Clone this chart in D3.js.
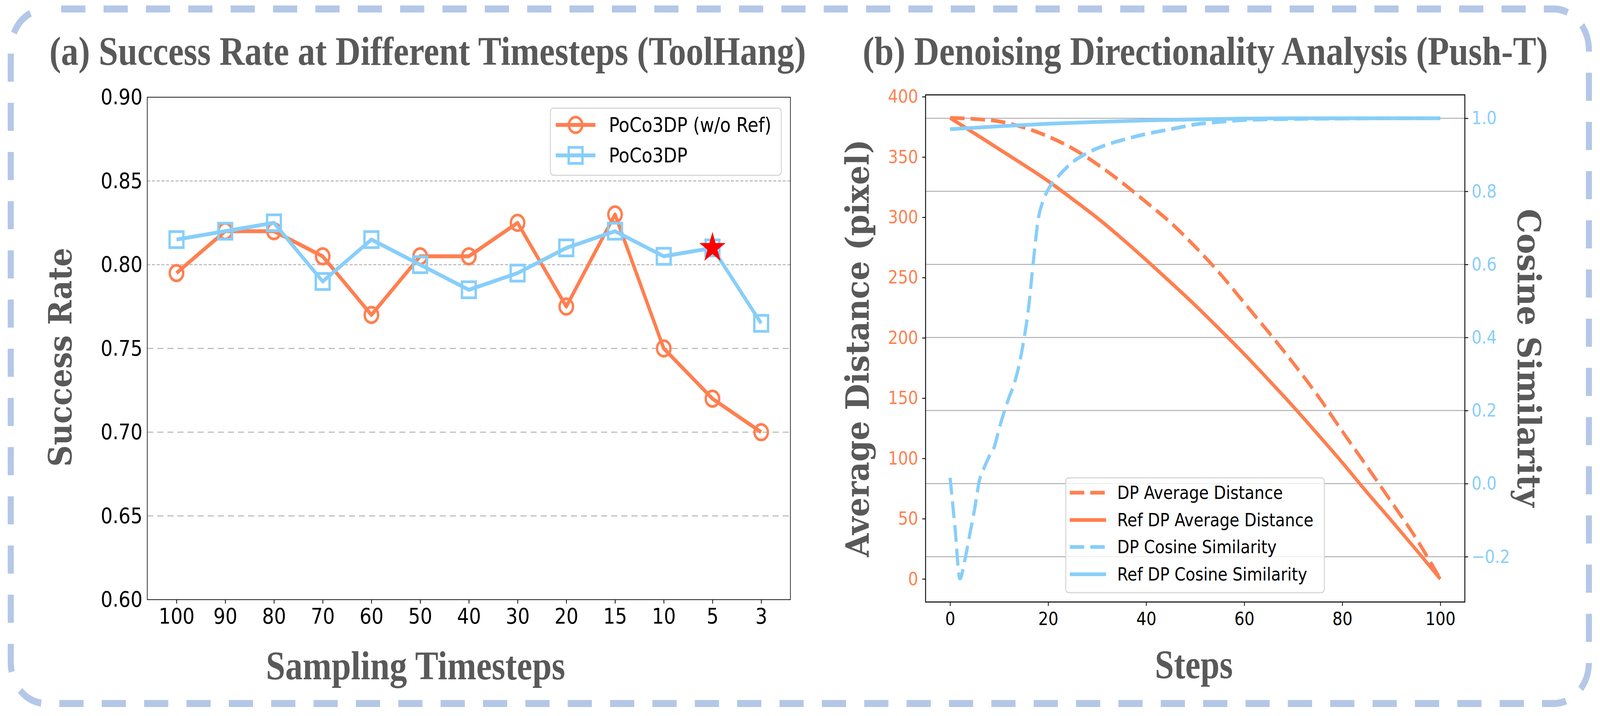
<!DOCTYPE html>
<html>
<head>
<meta charset="utf-8">
<script src="https://cdn.jsdelivr.net/npm/d3@7"></script>
<style>
	html, body { margin: 0; padding: 0; background: #fff; overflow: hidden; }
	svg { display: block; width: 100vw; height: 100vh; }
</style>
</head>
<body>
<svg id="fig" viewBox="0 0 4759 1834" preserveAspectRatio="none"></svg>
<script>
// ---- (a) success rate per sampling timestep ----
const timesteps = ["100", "90", "80", "70", "60", "50", "40", "30", "20", "15", "10", "5", "3"];
const rateNoRef = [0.795, 0.82, 0.82, 0.805, 0.77, 0.805, 0.805, 0.825, 0.775, 0.83, 0.75, 0.72, 0.70];
const ratePoco = [0.815, 0.82, 0.825, 0.79, 0.815, 0.80, 0.785, 0.795, 0.81, 0.82, 0.805, 0.81, 0.765];
const bestIndex = 11;
const rateTicks = [0.60, 0.65, 0.70, 0.75, 0.80, 0.85, 0.90];
const rateFineGrid = [0.80, 0.85];
const rateCoarseGrid = [0.65, 0.70, 0.75];

// ---- (b) denoising directionality ----
const distSteps = [0, 5, 10, 15, 20, 25, 30, 35, 40, 45, 50, 55, 60, 65, 70, 75, 80, 85, 90, 95, 100];
const dpDist = [382.4, 381.5, 379.5, 374.5, 367, 357, 344, 329, 312.5, 295.5, 275.5, 253.5, 229, 204.5, 179, 152, 122.5, 93.5, 64, 34, 0];
const refDist = [382.4, 369.5, 356.5, 343.5, 330, 315, 299.5, 282.5, 264.5, 246, 227, 207, 186.5, 165, 143, 120, 96.5, 72, 48.5, 24.5, 0];
const cosSteps = [0, 1, 2, 3, 4, 5, 6, 7, 8, 9, 10, 11, 12, 13, 14, 15, 16, 17, 18, 19, 20, 22, 25, 28, 31, 35, 40, 45, 50, 55, 60, 70, 80, 90, 100];
const dpCos = [0.016, -0.12, -0.26, -0.21, -0.14, -0.07, 0.01, 0.045, 0.075, 0.10, 0.15, 0.195, 0.235, 0.27, 0.32, 0.39, 0.48, 0.61, 0.725, 0.775, 0.805, 0.84, 0.88, 0.905, 0.923, 0.94, 0.957, 0.97, 0.983, 0.99, 0.995, 0.998, 0.999, 1.0, 1.0];
const refCosSteps = [0, 10, 20, 30, 40, 50, 60, 70, 80, 90, 100];
const refCos = [0.970, 0.978, 0.985, 0.990, 0.994, 0.997, 0.999, 1.0, 1.0, 1.0, 1.0];
const distTicks = [0, 50, 100, 150, 200, 250, 300, 350, 400];
const cosTicks = [-0.2, 0.0, 0.2, 0.4, 0.6, 0.8, 1.0];
const stepTicks = [0, 20, 40, 60, 80, 100];

const ORANGE = "#FF7F50";
const BLUE = "#87CEFA";
const LABEL = "#595959";
const GRID = "#b3b3b3";
const SANS = "DejaVu Sans";
const TIMES = "'Liberation Serif', 'Times New Roman', serif";
const WIDE_SERIF = "'DejaVu Serif', serif";

const svg = d3.select("#fig");

// rounded dashed frame round the whole figure
svg.append("rect")
	.attr("x", 32).attr("y", 23)
	.attr("width", 4694).attr("height", 1779)
	.attr("rx", 105).attr("ry", 105)
	.attr("fill", "none")
	.attr("stroke", "#B4C7E7")
	.attr("stroke-width", 18)
	.attr("stroke-dasharray", "72 54")
	.attr("stroke-dashoffset", 81);

function boldText(parent, txt, opts){
	const t = parent.append("text")
		.text(txt)
		.attr("font-family", opts.family)
		.attr("font-weight", "bold")
		.attr("font-size", opts.size)
		.attr("fill", LABEL)
		.attr("text-anchor", opts.anchor || "start")
		.attr("textLength", opts.length)
		.attr("lengthAdjust", "spacingAndGlyphs");
	if (opts.rotate){
		t.attr("transform", `translate(${opts.x},${opts.y}) rotate(${opts.rotate})`);
	} else {
		t.attr("x", opts.x).attr("y", opts.y);
	}
	return t;
}

function styleAxis(g, size, color){
	g.select(".domain").remove();
	g.selectAll(".tick text")
		.attr("font-family", SANS)
		.attr("font-size", size)
		.attr("fill", color);
	g.selectAll(".tick line").attr("stroke", "#000").attr("stroke-width", 2.2);
}

// =============== panel (a) ===============
const a = svg.append("g");
const xA = d3.scalePoint().domain(timesteps).range([438, 2351]).padding(0.6);
const yA = d3.scaleLinear().domain([0.6, 0.9]).range([1536, 249]);

// grid: two finer dashed lines up top, coarser dashes below
a.selectAll("line.fine").data(rateFineGrid).join("line")
	.attr("x1", 438).attr("x2", 2351)
	.attr("y1", d => yA(d)).attr("y2", d => yA(d))
	.attr("stroke", GRID).attr("stroke-width", 2.5)
	.attr("stroke-dasharray", "9 5");
a.selectAll("line.coarse").data(rateCoarseGrid).join("line")
	.attr("x1", 438).attr("x2", 2351)
	.attr("y1", d => yA(d)).attr("y2", d => yA(d))
	.attr("stroke", GRID).attr("stroke-width", 2.5)
	.attr("stroke-dasharray", "18 12");

a.append("rect")
	.attr("x", 438).attr("y", 249)
	.attr("width", 2351 - 438).attr("height", 1536 - 249)
	.attr("fill", "none").attr("stroke", "#000").attr("stroke-width", 1.8);

const axA = a.append("g").attr("transform", "translate(0,1536)")
	.call(d3.axisBottom(xA).tickSize(10).tickPadding(11));
styleAxis(axA, 56, "#000");
const ayA = a.append("g").attr("transform", "translate(438,0)")
	.call(d3.axisLeft(yA).tickValues(rateTicks).tickFormat(d3.format(".2f")).tickSize(0).tickPadding(14));
styleAxis(ayA, 56, "#000");

const lineA = d3.line().x((d, i) => xA(timesteps[i])).y(d => yA(d));
const seriesA = [
	{ values: rateNoRef, color: ORANGE, symbol: d3.symbolCircle, size: Math.PI * 20 * 20 },
	{ values: ratePoco, color: BLUE, symbol: d3.symbolSquare, size: 41 * 41 }
];
seriesA.forEach(s => {
	a.append("path")
		.attr("d", lineA(s.values))
		.attr("fill", "none").attr("stroke", s.color)
		.attr("stroke-width", 10).attr("stroke-linejoin", "round");
	a.selectAll(null).data(s.values).join("path")
		.attr("transform", (d, i) => `translate(${xA(timesteps[i])},${yA(d)})`)
		.attr("d", d3.symbol(s.symbol, s.size))
		.attr("fill", "none").attr("stroke", s.color).attr("stroke-width", 7);
});

// red star on the chosen setting
a.append("path")
	.attr("transform", `translate(${xA(timesteps[bestIndex])},${yA(ratePoco[bestIndex])})`)
	.attr("d", d3.symbol(d3.symbolStar, 1890))
	.attr("fill", "#FF0000");

// legend (a)
const legA = a.append("g");
legA.append("rect")
	.attr("x", 1637).attr("y", 277).attr("width", 687).attr("height", 172)
	.attr("rx", 10).attr("fill", "#fff").attr("fill-opacity", 0.8)
	.attr("stroke", "#d6d6d6").attr("stroke-width", 3);
[["PoCo3DP (w/o Ref)", seriesA[0], 320], ["PoCo3DP", seriesA[1], 398]].forEach(([name, s, y]) => {
	legA.append("line").attr("x1", 1653).attr("x2", 1771).attr("y1", y).attr("y2", y)
		.attr("stroke", s.color).attr("stroke-width", 10);
	legA.append("path").attr("transform", `translate(1712,${y})`)
		.attr("d", d3.symbol(s.symbol, s.size))
		.attr("fill", "none").attr("stroke", s.color).attr("stroke-width", 7);
	legA.append("text").text(name)
		.attr("x", 1811).attr("y", y).attr("dy", "0.35em")
		.attr("font-family", SANS).attr("font-size", 52).attr("fill", "#000");
});

boldText(svg, "(a) Success Rate at Different Timesteps (ToolHang)", { family: TIMES, size: 104, x: 147, y: 166, length: 2250 });
boldText(svg, "Sampling Timesteps", { family: TIMES, size: 104, x: 791, y: 1740, length: 890 });
boldText(svg, "Success Rate", { family: WIDE_SERIF, size: 96, x: 213, y: 915, rotate: -90, anchor: "middle", length: 561 });

// =============== panel (b) ===============
const b = svg.append("g");
const xB = d3.scaleLinear().domain([-5, 105]).range([2753, 4357]);
const yDist = d3.scaleLinear().domain([-19.12, 401.5]).range([1542, 243]);
const yCos = d3.scaleLinear().domain([-0.324, 1.064]).range([1542, 243]);

// grid follows the cosine axis
b.selectAll("line.grid").data(cosTicks).join("line")
	.attr("x1", 2753).attr("x2", 4357)
	.attr("y1", d => yCos(d)).attr("y2", d => yCos(d))
	.attr("stroke", "#b0b0b0").attr("stroke-width", 2.5);

const distLine = d3.line().curve(d3.curveMonotoneX).x((d, i) => xB(distSteps[i])).y(d => yDist(d));
const cosLine = d3.line().curve(d3.curveMonotoneX).x((d, i) => xB(cosSteps[i])).y(d => yCos(d));
const refCosLine = d3.line().curve(d3.curveMonotoneX).x((d, i) => xB(refCosSteps[i])).y(d => yCos(d));

const seriesB = [
	{ name: "DP Average Distance", d: distLine(dpDist), color: ORANGE, dash: "43 18" },
	{ name: "Ref DP Average Distance", d: distLine(refDist), color: ORANGE, dash: null },
	{ name: "DP Cosine Similarity", d: cosLine(dpCos), color: BLUE, dash: "43 18" },
	{ name: "Ref DP Cosine Similarity", d: refCosLine(refCos), color: BLUE, dash: null }
];
seriesB.forEach(s => {
	b.append("path").attr("d", s.d)
		.attr("fill", "none").attr("stroke", s.color).attr("stroke-width", 9.5)
		.attr("stroke-dasharray", s.dash);
});

b.append("rect")
	.attr("x", 2753).attr("y", 243)
	.attr("width", 4357 - 2753).attr("height", 1542 - 243)
	.attr("fill", "none").attr("stroke", "#000").attr("stroke-width", 2.6);

const axB = b.append("g").attr("transform", "translate(0,1542)")
	.call(d3.axisBottom(xB).tickValues(stepTicks).tickFormat(d3.format("d")).tickSize(10).tickPadding(16));
styleAxis(axB, 47, "#000");
const ayDist = b.append("g").attr("transform", "translate(2753,0)")
	.call(d3.axisLeft(yDist).tickValues(distTicks).tickFormat(d3.format("d")).tickSize(10).tickPadding(12));
styleAxis(ayDist, 47, ORANGE);
const ayCos = b.append("g").attr("transform", "translate(4357,0)")
	.call(d3.axisRight(yCos).tickValues(cosTicks).tickFormat(d3.format(".1f")).tickSize(10).tickPadding(10));
styleAxis(ayCos, 47, BLUE);

// legend (b)
const legB = b.append("g");
legB.append("rect")
	.attr("x", 3170).attr("y", 1224).attr("width", 769).attr("height", 294)
	.attr("rx", 9).attr("fill", "#fff").attr("fill-opacity", 0.8)
	.attr("stroke", "#d6d6d6").attr("stroke-width", 3);
const legRows = [1262, 1332, 1401, 1471];
seriesB.forEach((s, i) => {
	const y = legRows[i];
	legB.append("line").attr("x1", 3182).attr("x2", 3290).attr("y1", y).attr("y2", y)
		.attr("stroke", s.color).attr("stroke-width", 9.5)
		.attr("stroke-dasharray", s.dash);
	legB.append("text").text(s.name)
		.attr("x", 3323).attr("y", y).attr("dy", "0.35em")
		.attr("font-family", SANS).attr("font-size", 47).attr("fill", "#000");
});

boldText(svg, "(b) Denoising Directionality Analysis (Push-T)", { family: TIMES, size: 104, x: 2566, y: 166, length: 2038 });
boldText(svg, "Steps", { family: TIMES, size: 104, x: 3435, y: 1737, length: 232 });
boldText(svg, "Average Distance (pixel)", { family: WIDE_SERIF, size: 96, x: 2584, y: 892, rotate: -90, anchor: "middle", length: 1070 });
boldText(svg, "Cosine Similarity", { family: WIDE_SERIF, size: 96, x: 4514, y: 917, rotate: 90, anchor: "middle", length: 764 });
</script>
</body>
</html>
